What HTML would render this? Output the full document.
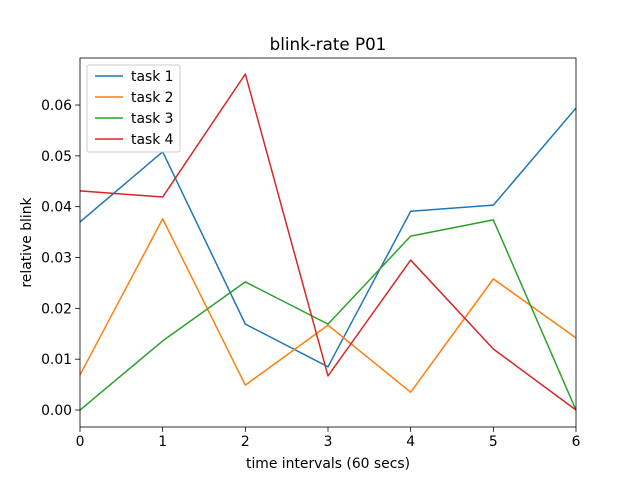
<!DOCTYPE html>
<html><head><meta charset="utf-8"><style>
body{margin:0;background:#fff;}
svg text{font-family:"DejaVu Sans","Liberation Sans",sans-serif;}
</style></head><body>
<svg id="chart" width="640" height="480" xmlns="http://www.w3.org/2000/svg">
<rect width="640" height="480" fill="#fff"/>
<g id="plot"></g>
</svg>
<script>
const xCats = [0,1,2,3,4,5,6];
const task1 = [0.0370,0.0508,0.0169,0.0085,0.0391,0.0403,0.0594];
const task2 = [0.0069,0.0376,0.0049,0.0167,0.0035,0.0258,0.0142];
const task3 = [0.0000,0.0136,0.0252,0.0169,0.0342,0.0374,0.0000];
const task4 = [0.0431,0.0419,0.0661,0.0067,0.0295,0.0120,0.0000];
const seriesNames = ["task 1","task 2","task 3","task 4"];
const yTicks = [0,0.01,0.02,0.03,0.04,0.05,0.06];
const yTickLabels = ["0.00","0.01","0.02","0.03","0.04","0.05","0.06"];
const xTicks = [0,1,2,3,4,5,6];

const L=80,R=576,T=58,B=427, xMin=0,xMax=6,yMin=-0.00334,yMax=0.06925;
const colors=["#1f77b4","#ff7f0e","#2ca02c","#d62728"];
const xs=v=>L+(v-xMin)/(xMax-xMin)*(R-L);
const ys=v=>B-(v-yMin)/(yMax-yMin)*(B-T);
const NS="http://www.w3.org/2000/svg";
const g=document.getElementById('plot');
function mk(tag,attrs,parent){const e=document.createElementNS(NS,tag);for(const k in attrs)e.setAttribute(k,attrs[k]);(parent||g).appendChild(e);return e;}

const all=[task1,task2,task3,task4];
all.forEach((s,i)=>{
  const p=mk('polyline',{points:s.map((v,j)=>xs(xCats[j])+','+ys(v)).join(' '),fill:'none',stroke:colors[i],'stroke-width':1.5,'stroke-linejoin':'round'});
  
  
});
const frame=mk('rect',{x:L,y:T,width:R-L,height:B-T,fill:'none',stroke:'#000','stroke-width':0.8});



xTicks.forEach(v=>{
  const X=xs(v);
  mk('line',{x1:X,x2:X,y1:B,y2:B+4.9,stroke:'#000','stroke-width':0.8});
  const t=mk('text',{x:X,y:B+19,'text-anchor':'middle','font-size':13.9});
  t.textContent=v;
  
  
});
yTicks.forEach((v,i)=>{
  const Y=ys(v);
  mk('line',{x1:L-4.9,x2:L,y1:Y,y2:Y,stroke:'#000','stroke-width':0.8});
  const t=mk('text',{x:L-8,y:Y+5,'text-anchor':'end','font-size':13.9});
  t.textContent=yTickLabels[i];
  
  
});
const title=mk('text',{x:(L+R)/2,y:50,'text-anchor':'middle','font-size':16.7});
title.textContent='blink-rate P01';


const xl=mk('text',{x:(L+R)/2,y:468,'text-anchor':'middle','font-size':13.9});
xl.textContent='time intervals (60 secs)';


const yl=mk('text',{x:0,y:0,'text-anchor':'middle','font-size':13.9,transform:'translate(31,'+((T+B)/2)+') rotate(-90)'});
yl.textContent='relative blink';



const lg=mk('g',{});


mk('rect',{x:87,y:65,width:93,height:87,rx:2,fill:'#fff','fill-opacity':0.8,stroke:'#ccc','stroke-width':1},lg);
seriesNames.forEach((n,i)=>{
  const Y=76+i*21;
  const ln=mk('line',{x1:95,x2:123,y1:Y,y2:Y,stroke:colors[i],'stroke-width':1.5},lg);
  
  
  const t=mk('text',{x:131,y:Y+5,'font-size':13.9},lg);
  t.textContent=n;
  
  
});
</script>
</body></html>
